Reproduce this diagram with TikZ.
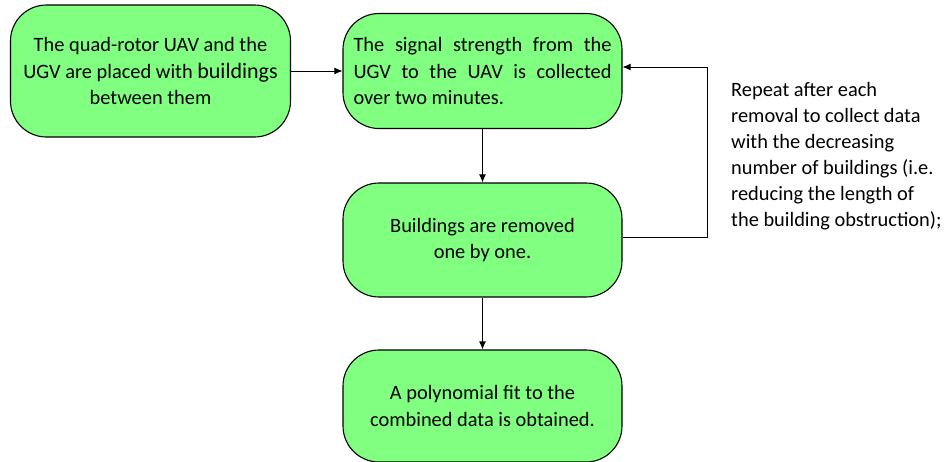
\documentclass[tikz,border=0pt]{standalone}
\usepackage{fontspec}
\setmainfont{Carlito}
\usetikzlibrary{arrows.meta}
\definecolor{boxgreen}{RGB}{128,255,128}
\begin{document}
\begin{tikzpicture}[x=1pt,y=-1pt,
  flowbox/.style={draw=black, line width=1.1pt, fill=boxgreen, rounded corners=36pt, inner sep=0pt, font=\fontsize{20.4}{26.5}\selectfont},
  conn/.style={line width=0.9pt, -{Latex[length=8pt,width=7pt]}}]
\useasboundingbox (0,0) rectangle (944,461);
\node[flowbox, minimum width=280pt, minimum height=132pt, align=center] (b1) at (150.5,71)
  {The quad-rotor UAV and the\\UGV are placed with {\fontsize{22}{26.5}\selectfont buildings}\\between them};
\node[flowbox, minimum width=279pt, minimum height=115pt, align=left] (b2) at (482.5,71)
  {\makebox[258pt][s]{The signal strength from the}\\\makebox[258pt][s]{UGV to the UAV is collected}\\over two minutes.\hspace*{105pt}};
\node[flowbox, minimum width=279pt, minimum height=114pt, align=center] (b3) at (482.5,240)
  {Buildings are removed\\one by one.};
\node[flowbox, minimum width=279pt, minimum height=112pt, align=center] (b4) at (482.5,406)
  {A polynomial fit to the\\combined data is obtained.};
\node[anchor=north west, align=left, inner sep=0pt, font=\fontsize{20.4}{26}\selectfont] (note) at (731,82)
  {Repeat after each\\removal to collect data\\with the decreasing\\number of buildings (i.e.\\reducing the length of\\the building obstruction);};
\coordinate (c1) at (707,237);
\coordinate (c2) at (707,67);
\draw[conn] (b1.east |- 0,71) -- (b2.west |- 0,71);
\draw[conn] (b2.south) -- (b3.north);
\draw[conn] (b3.south) -- (b4.north);
\draw[conn] (b3.east |- c1) -- (c1) -- (c2) -- (b2.east |- c2);
\end{tikzpicture}
\end{document}
